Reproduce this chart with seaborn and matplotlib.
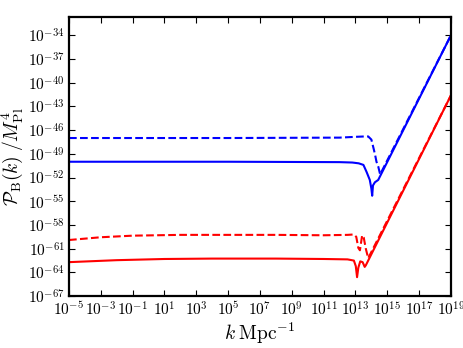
import numpy as np
import pandas as pd
import matplotlib
matplotlib.use('Agg')
import matplotlib.pyplot as plt
from matplotlib.ticker import FuncFormatter, NullLocator
import seaborn as sns

# log10 k and log10 P_B/M_Pl^4
blue_solid_logk = [-5, 5, 12, 12.8, 13.2, 13.5, 13.7, 13.9, 14.0, 14.05, 14.1, 14.22, 14.43, 19]
blue_solid_logp = [-50.0, -50.0, -50.05, -50.1, -50.2, -50.4, -51.3, -52.3, -53.4, -54.3, -53.0, -52.6, -52.3, -34.0]

blue_dash_logk = [-5, 5, 12, 13.0, 13.6, 13.8, 14.0, 14.16, 14.25, 14.32, 14.43, 14.55, 19]
blue_dash_logp = [-47.0, -47.0, -46.95, -46.85, -46.8, -46.8, -47.2, -48.5, -49.3, -50.0, -50.6, -51.6, -34.0]

red_solid_logk = [-5, -2, 1, 4, 8, 11, 12.5, 12.9, 13.02, 13.1, 13.18, 13.3, 13.45, 13.58, 13.65, 19]
red_solid_logp = [-62.7, -62.45, -62.3, -62.25, -62.25, -62.3, -62.35, -62.5, -63.2, -64.6, -63.4, -62.6, -62.7, -63.3, -63.1, -41.6]

red_dash_logk = [-5, -3, -1, 2, 8, 11, 12.5, 12.9, 13.05, 13.18, 13.28, 13.42, 13.52, 13.65, 13.8, 19]
red_dash_logp = [-59.9, -59.55, -59.35, -59.25, -59.25, -59.3, -59.25, -59.2, -59.5, -60.9, -61.2, -59.3, -59.6, -61.0, -62.2, -41.6]

xtick_exp = list(range(-5, 20, 2))
ytick_exp = list(range(-67, -33, 3))

plt.rcParams['mathtext.fontset'] = 'cm'
plt.rcParams['font.family'] = 'serif'
plt.rcParams['font.serif'] = ['DejaVu Serif']

fig = plt.figure(figsize=(4.63, 3.48), dpi=100)
ax = fig.add_axes([0.149, 0.149, 0.825, 0.802])

curves = [(blue_solid_logk, blue_solid_logp, '#0000ff', '-'),
          (blue_dash_logk, blue_dash_logp, '#0000ff', '--'),
          (red_solid_logk, red_solid_logp, '#ff0000', '-'),
          (red_dash_logk, red_dash_logp, '#ff0000', '--')]

for lk, lp, c, ls in curves:
    d = pd.DataFrame({'k': 10.0 ** np.array(lk), 'p': 10.0 ** np.array(lp)})
    sns.lineplot(data=d, x='k', y='p', color=c, linestyle=ls, lw=1.5, ax=ax)

ax.set_xscale('log')
ax.set_yscale('log')
ax.set_xlim(1e-5, 1e19)
ax.set_ylim(1e-67, 10 ** -31.7)
ax.set_xticks([10.0 ** e for e in xtick_exp])
ax.set_yticks([10.0 ** e for e in ytick_exp])
ax.xaxis.set_minor_locator(NullLocator())
ax.yaxis.set_minor_locator(NullLocator())
fmt = FuncFormatter(lambda v, pos: r'$10^{%d}$' % int(round(np.log10(v))))
ax.xaxis.set_major_formatter(fmt)
ax.yaxis.set_major_formatter(fmt)
ax.tick_params(which='both', direction='in', top=True, right=True,
               length=4, width=0.8, labelsize=11, pad=3)
for s in ax.spines.values():
    s.set_linewidth(1.6)

ax.set_xlabel(r'$k\;{\rm Mpc}^{-1}$', fontsize=14, labelpad=2)
ax.set_ylabel(r'$\mathcal{P}_{\rm B}(k)\;/M_{\rm Pl}^4$', fontsize=14, labelpad=2)

fig.savefig('out.png', dpi=100)
